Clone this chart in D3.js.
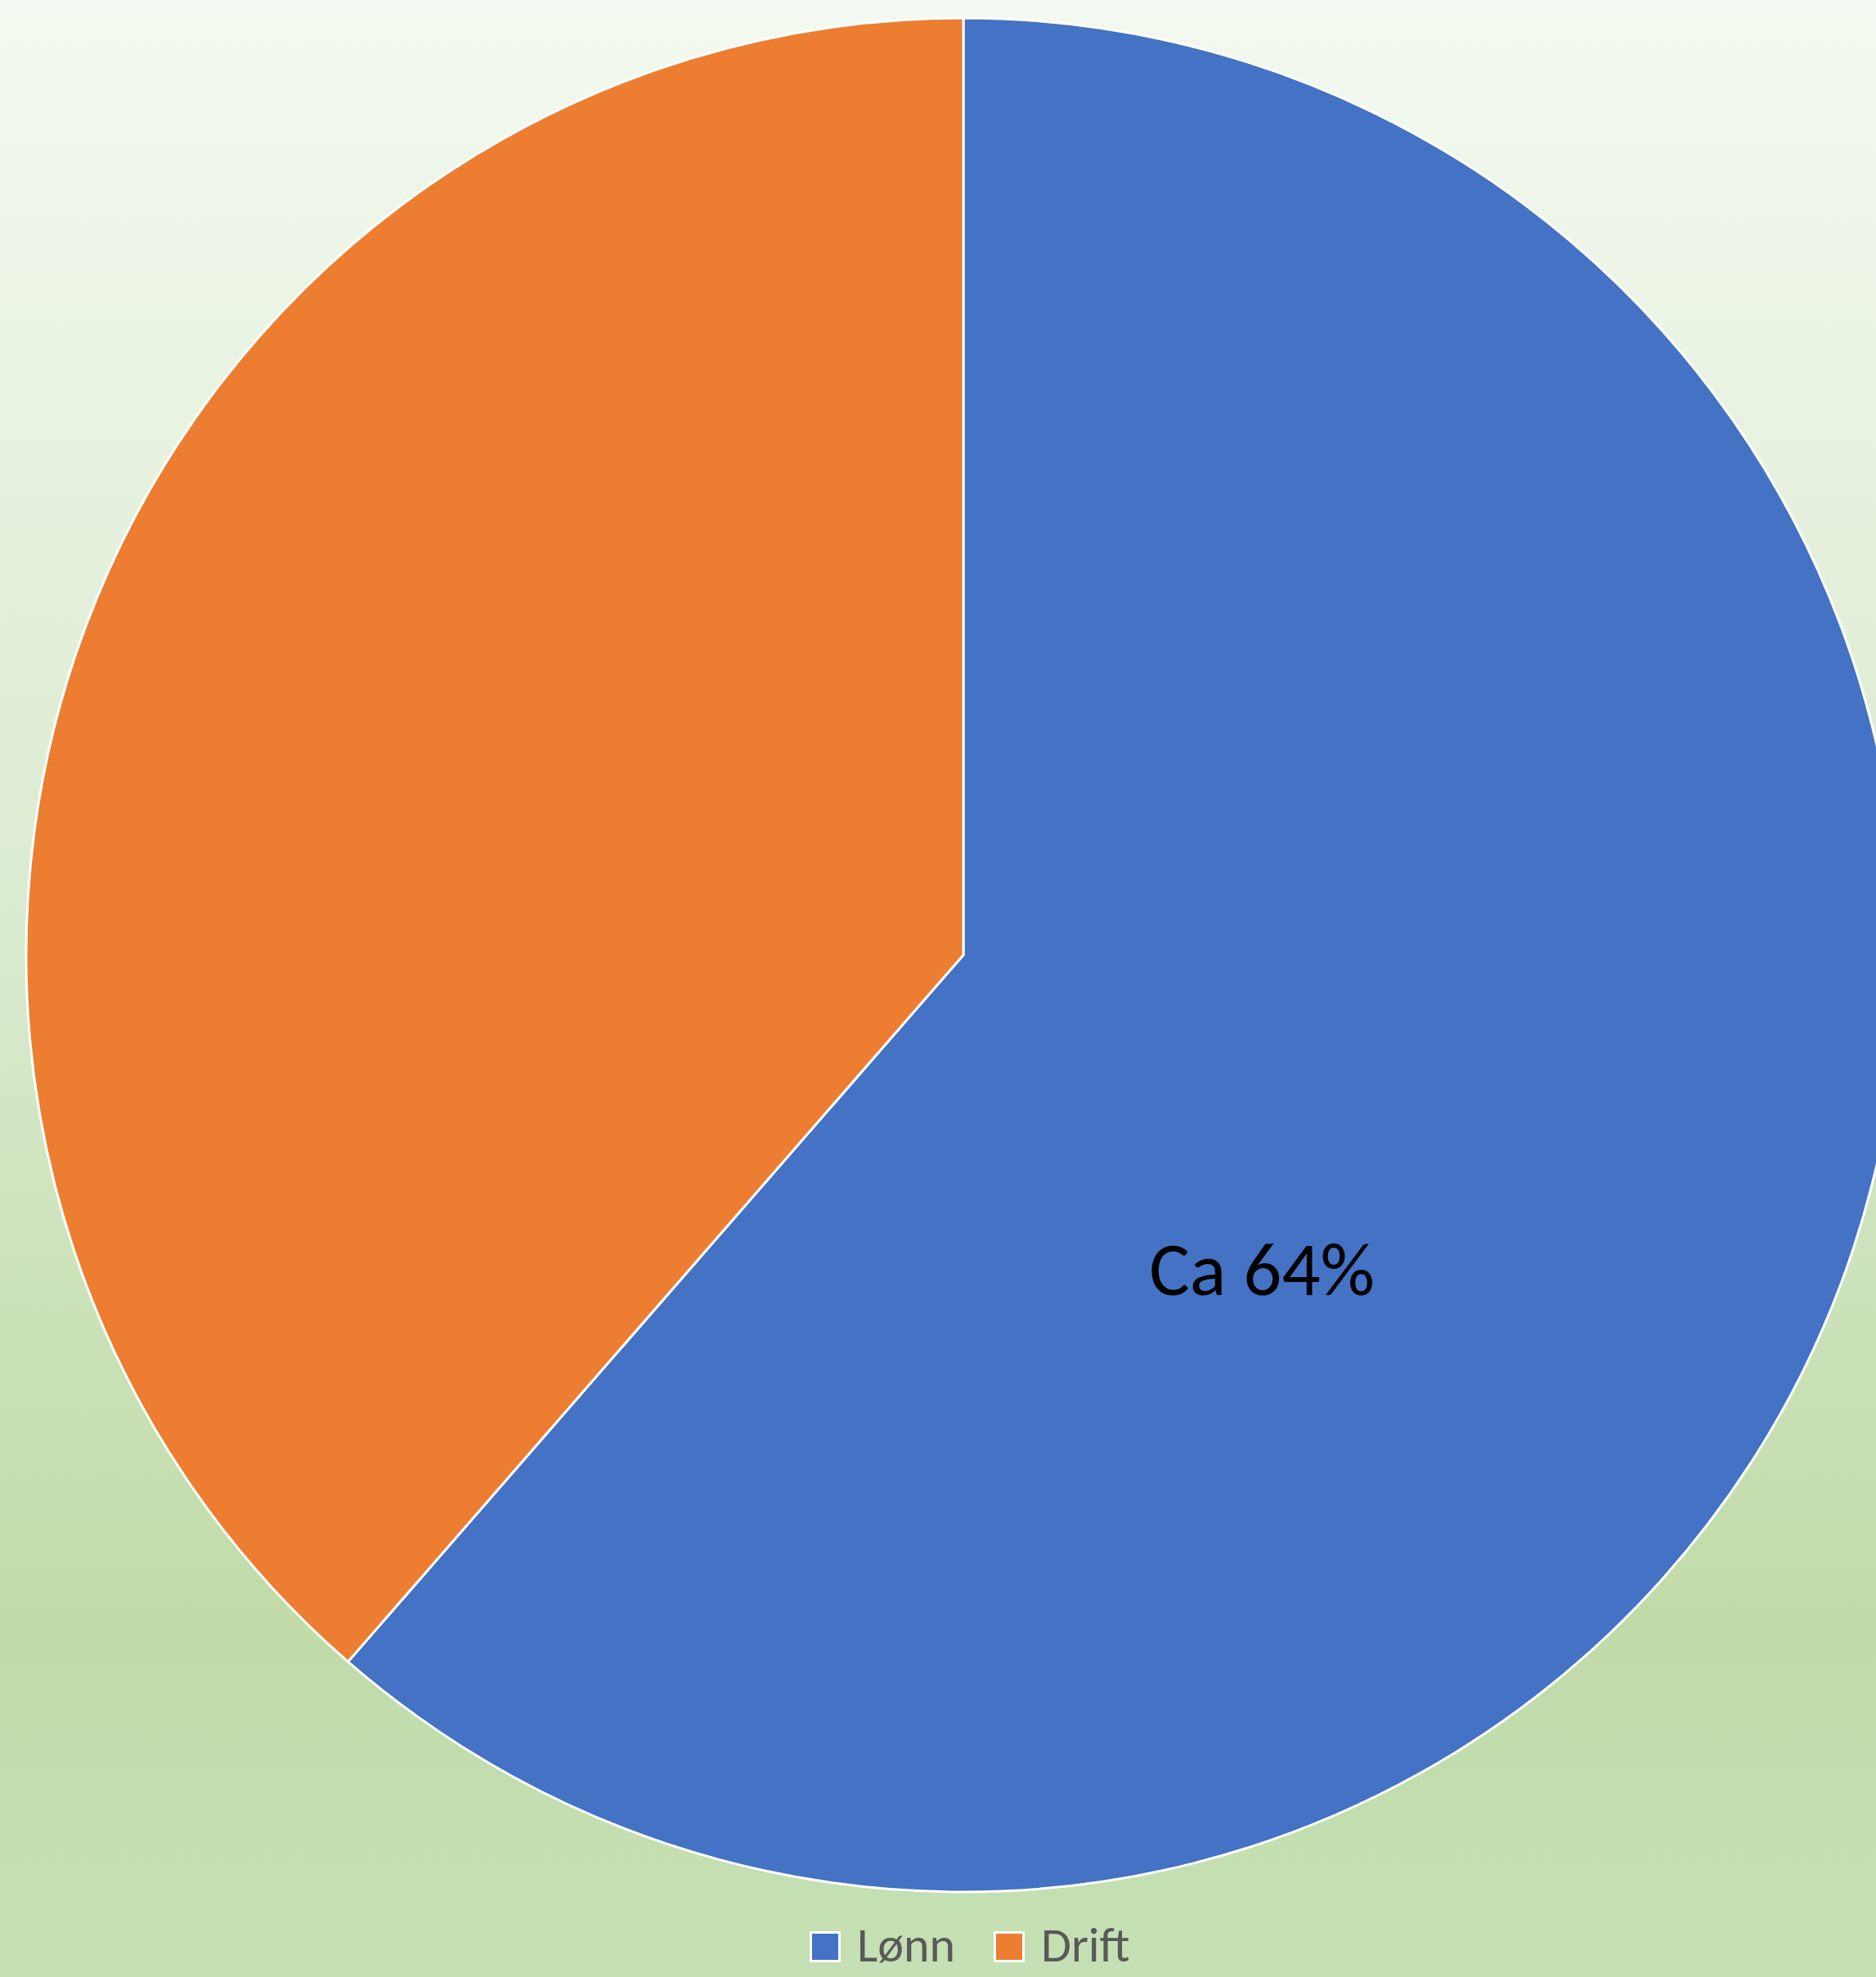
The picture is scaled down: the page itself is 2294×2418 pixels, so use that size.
<!DOCTYPE html>
<html>
<head>
<meta charset="utf-8">
<script src="https://cdn.jsdelivr.net/npm/d3@7"></script>
<style>
  body { margin: 0; padding: 0; overflow: hidden; }
  svg { display: block; }
</style>
</head>
<body>
<div id="chart"></div>
<script>
const w = 2294, h = 2418;

// data
const categories = ["Lønn", "Drift"];
const values = [61.4, 38.6];
const colors = ["#4472c4", "#ed7d31"];
const labels = ["Ca 64%", ""];

const fontFam = "Carlito, Calibri, Lato, 'Open Sans', sans-serif";

const svg = d3.select("#chart")
              .append("svg")
              .attr("width", w)
              .attr("height", h);

// background gradient
const grad = svg.append("defs").append("linearGradient")
                .attr("id", "bg")
                .attr("x1", 0).attr("y1", 0)
                .attr("x2", 0).attr("y2", 1);
grad.append("stop").attr("offset", "0%").attr("stop-color", "#f3f9f0");
grad.append("stop").attr("offset", "45%").attr("stop-color", "#dbebd0");
grad.append("stop").attr("offset", "82%").attr("stop-color", "#c0dba8");
grad.append("stop").attr("offset", "100%").attr("stop-color", "#c5e0b4");

svg.append("rect")
   .attr("width", w)
   .attr("height", h)
   .attr("fill", "url(#bg)");

let cx = 1178, cy = 1168, radius = 1146;

const pie = d3.pie().sort(null).value(d => d);
const arc = d3.arc().innerRadius(0).outerRadius(radius);

const g = svg.append("g")
             .attr("transform", "translate(" + cx + "," + cy + ")");

const slices = pie(values);

g.selectAll("path")
 .data(slices)
 .enter()
 .append("path")
 .attr("d", arc)
 .attr("fill", (d, i) => colors[i])
 .attr("stroke", "#ffffff")
 .attr("stroke-width", 3)
 .attr("stroke-linejoin", "round");

// data label for Lønn (placed like the original, off centroid)
const labelR = 0.462 * radius;
const labelA = 136.4 * Math.PI / 180;
g.selectAll("text.lbl")
 .data(slices.filter((d, i) => labels[i] !== ""))
 .enter()
 .append("text")
 .attr("class", "lbl")
 .attr("x", d => labelR * Math.sin(labelA))
 .attr("y", d => -labelR * Math.cos(labelA))
 .attr("dy", "0.35em")
 .attr("text-anchor", "middle")
 .attr("font-family", fontFam)
 .attr("font-size", 93)
 .attr("fill", "#000000")
 .text(d => labels[d.index]);

// legend
const legX = d3.scaleOrdinal().domain(categories).range([990, 1215]);
const legY = 2362;
const leg = svg.append("g");
const item = leg.selectAll("g")
                .data(categories)
                .enter()
                .append("g")
                .attr("transform", d => "translate(" + legX(d) + "," + legY + ")");
item.append("rect")
    .attr("x", 1.5).attr("y", 1.5)
    .attr("width", 35).attr("height", 35)
    .attr("fill", (d, i) => colors[i])
    .attr("stroke", "#ffffff")
    .attr("stroke-width", 3);
item.append("text")
    .attr("x", 58)
    .attr("y", 37)
    .attr("font-family", fontFam)
    .attr("font-size", 60)
    .attr("fill", "#595959")
    .text(d => d);
</script>
</body>
</html>
